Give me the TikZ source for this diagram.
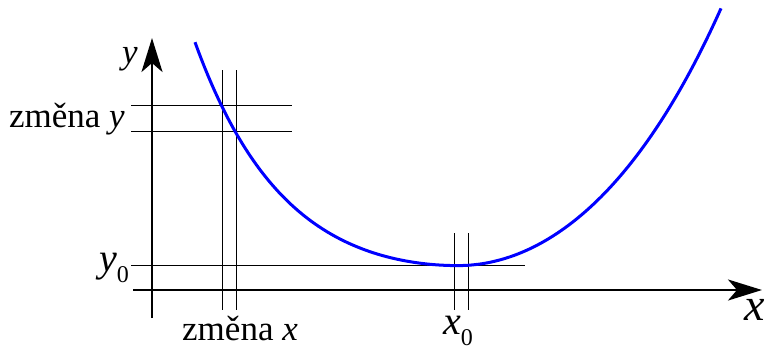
\documentclass[tikz,border=0pt]{standalone}
\usepackage{fontspec}
\setmainfont{Liberation Serif}
\usetikzlibrary{arrows.meta}
\definecolor{cBlue}{RGB}{0,0,255}
\newcommand{\subz}{\raisebox{-11pt}{\fontsize{24}{24}\selectfont\upshape 0}}
\tikzset{
axis/.style={line width=2.6pt,draw=black,-{Stealth[length=34pt,width=21pt,inset=9pt]}},
guide/.style={line width=1pt,draw=black},
curve/.style={line width=3pt,draw=cBlue},
lbl/.style={inner sep=0pt,font=\rmfamily\fontsize{35}{40}\selectfont},
sublbl/.style={inner sep=0pt,font=\rmfamily\fontsize{40}{46}\selectfont},
axlbl/.style={inner sep=0pt,font=\rmfamily\fontsize{46}{52}\selectfont\itshape}
}
\begin{document}
\begin{tikzpicture}[x=1pt,y=-1pt]
\useasboundingbox (0,0) rectangle (765,349);
% guide lines
\draw[guide] (131,105.5) -- (292,105.5);
\draw[guide] (131,131.5) -- (292,131.5);
\draw[guide] (222.5,70) -- (222.5,310);
\draw[guide] (236.5,70) -- (236.5,310);
\draw[guide] (131,265.5) -- (525,265.5);
\draw[guide] (454.5,233) -- (454.5,310);
\draw[guide] (468.5,233) -- (468.5,310);
% axes
\draw[axis] (133,290) -- (762,290);
\draw[axis] (152,318) -- (152,38);
% curve, two branches meeting at the minimum
\draw[curve] plot[domain=-263:0,samples=80] ({458+\x},{265.6-27*(cosh(0.0111*\x)-1)})
  -- plot[domain=0:263,samples=80] ({458+\x},{265.6-254*(cosh(0.00504*\x)-1)});
% labels
\node[lbl,anchor=base] (ylab) at (130,63) {\textit{y}};
\node[axlbl,anchor=base] (xlab) at (755,320) {x};
\node[lbl,anchor=base east] (dy) at (125,127) {změna \textit{y}};
\node[lbl,anchor=base] (dx) at (240,340) {změna \textit{x}};
\node[sublbl,anchor=base east] (y0) at (129,271) {\textit{y}\subz};
\node[sublbl,anchor=base west] (x0) at (443,334) {\textit{x}\subz};
\end{tikzpicture}
\end{document}
